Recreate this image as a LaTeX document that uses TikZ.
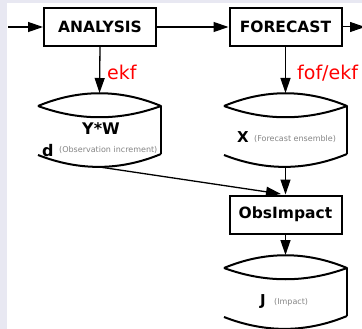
\documentclass[tikz,border=0pt]{standalone}
\usepackage{fontspec}
\setmainfont{DejaVu Sans}
\usetikzlibrary{arrows.meta}
\definecolor{bgl}{HTML}{E8E8F2}
\definecolor{grayt}{HTML}{858585}
\tikzset{
 procbox/.style={draw, line width=2pt, minimum width=112pt, minimum height=38pt, font=\bfseries\fontsize{15.5}{18}\selectfont, inner sep=0},
 conn/.style={line width=1.3pt, -{Triangle[length=15pt,width=10pt]}},
 storeline/.style={line width=2pt, line join=round},
 lbl/.style={text=red, font=\fontsize{19}{22}\selectfont, anchor=base west, inner sep=0},
 bigt/.style={font=\bfseries\fontsize{16}{18}\selectfont, inner sep=0},
 smallt/.style={text=grayt, font=\fontsize{8}{10}\selectfont, inner sep=0, anchor=west},
}
\newcommand\datastore[3]{%
 \draw[storeline] (#2-61.5,#3) .. controls (#2-20.5,#3-17) and (#2+20.5,#3-17) .. (#2+61.5,#3)
   .. controls (#2+20.5,#3+15) and (#2-20.5,#3+15) .. (#2-61.5,#3);
 \draw[storeline] (#2+61.5,#3) -- (#2+61.5,#3+48);
 \draw[storeline] (#2-61.5,#3+49) .. controls (#2-20.5,#3+65) and (#2+20.5,#3+65) .. (#2+61.5,#3+48);
 \coordinate (#1top) at (#2,#3-13);
 \coordinate (#1bot) at (#2,#3+61);
}
\begin{document}
\begin{tikzpicture}[x=1pt,y=-1pt]
\useasboundingbox (0,0) rectangle (362,329);
\fill[bgl] (0,0) rectangle (362,329);
\fill[white] (7,3) rectangle (362,329);
% process boxes
\node[procbox] (ana) at (100,27) {ANALYSIS};
\node[procbox] (fc) at (285.5,27) {FORECAST};
\node[procbox] (obs) at (285.5,214.5) {ObsImpact};
% data stores
\datastore{s1}{99.5}{106}
\datastore{s2}{285.5}{106}
\datastore{s3}{285.5}{268}
% texts
\node[bigt] (yw) at (101,129) {Y*W};
\node[bigt, anchor=west] (dd) at (42,151) {d};
\node[smallt] (dtxt) at (59,150) {(Observation increment)};
\node[bigt, anchor=west, font=\bfseries\fontsize{15}{17}\selectfont] (xx) at (237,137) {X};
\node[smallt] (xtxt) at (254,139) {(Forecast ensemble)};
\node[bigt, anchor=west, font=\bfseries\fontsize{15}{17}\selectfont] (jj) at (260,302) {J};
\node[smallt] (jtxt) at (274,302.5) {(Impact)};
% connectors
\coordinate (inl) at (8,27);
\coordinate (outr) at (365,27);
\coordinate (obsin) at (281,194);
\draw[conn] (inl) -- (ana.west);
\draw[conn] (ana.east) -- (fc.west);
\draw[conn, line width=1pt] (fc.east) -- (outr);
\draw[conn] (ana.south) -- (s1top);
\node[lbl] (lekf) at (107,80) {ekf};
\draw[conn] (fc.south) -- (s2top);
\node[lbl] (lfof) at (297,80) {fof/ekf};
\draw[conn] (s2bot) -- (obs.north);
\draw[conn] (s1bot) -- (obsin);
\draw[conn] (obs.south) -- (s3top);
\end{tikzpicture}
\end{document}
